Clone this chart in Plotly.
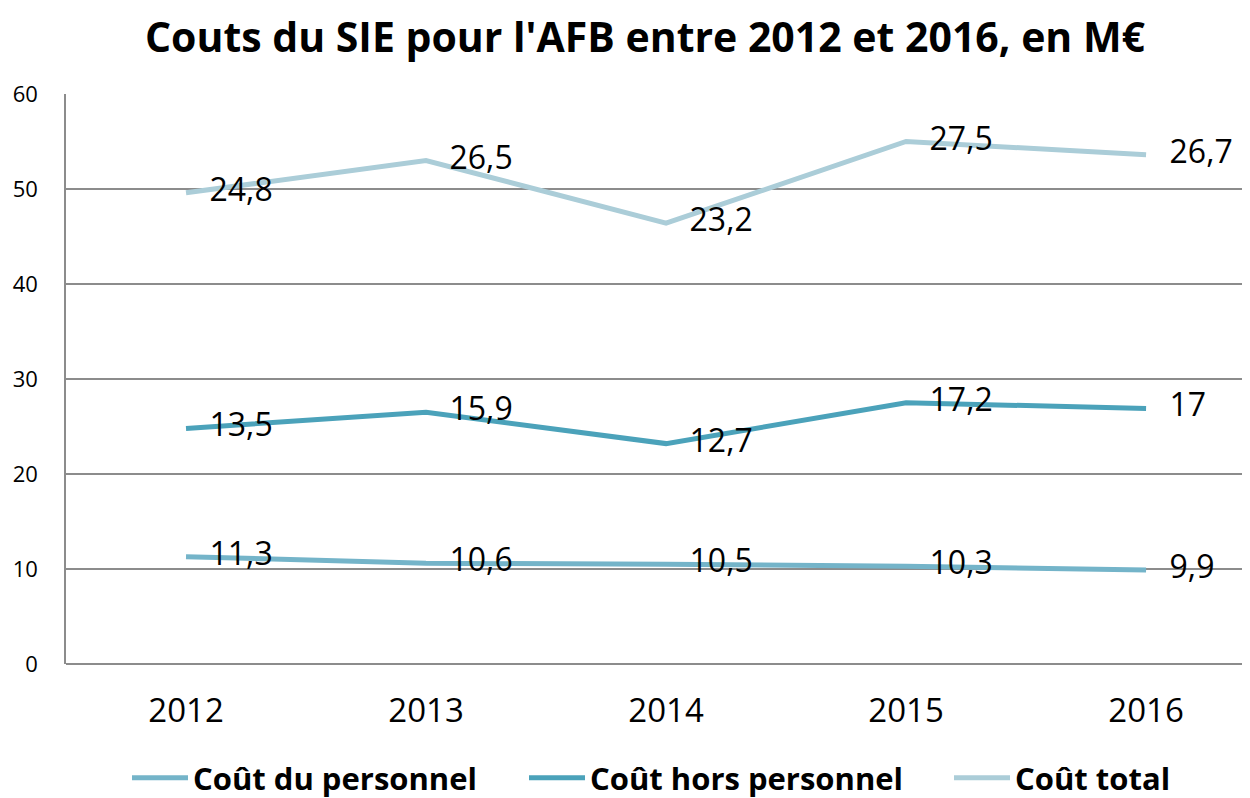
import plotly.graph_objects as go

years = ["2012", "2013", "2014", "2015", "2016"]
cout_personnel = [11.3, 10.6, 10.5, 10.3, 9.9]
cout_hors_personnel = [13.5, 15.9, 12.7, 17.2, 17.0]
cout_total = [24.8, 26.5, 23.2, 27.5, 26.7]

labels_personnel = ["11,3", "10,6", "10,5", "10,3", "9,9"]
labels_hors = ["13,5", "15,9", "12,7", "17,2", "17"]
labels_total = ["24,8", "26,5", "23,2", "27,5", "26,7"]

FONT = "Open Sans"
# page body has an 8px margin: figure is drawn 8px right/down in the window
OFF = 8
W, H = 1250 - OFF, 798 - OFF

series = [
    ("Coût du personnel", cout_personnel, labels_personnel, "#74B4C9", "legend", 133),
    ("Coût hors personnel", cout_hors_personnel, labels_hors, "#4BA2BA", "legend2", 530),
    ("Coût total", cout_total, labels_total, "#ABCDD8", "legend3", 955),
]

fig = go.Figure()
legends = {}
for name, vals, labs, col, leg, lx in series:
    fig.add_trace(go.Scatter(
        x=years, y=vals, name=name, mode="lines+markers+text",
        stackgroup="one", fill="none",
        line=dict(color=col, width=5),
        marker=dict(size=36, color="rgba(0,0,0,0)", line=dict(width=0)),
        text=labs, textposition="middle right",
        textfont=dict(family=FONT, size=32, color="#000000"),
        cliponaxis=False, legend=leg,
    ))
    legends[leg] = dict(
        orientation="h", x=(lx - OFF - 6) / W, xref="container", xanchor="left",
        y=1 - (778 - OFF) / H, yref="container", yanchor="middle",
        font=dict(family=FONT, size=31, color="#000000", weight="bold"),
        itemwidth=56, bgcolor="rgba(0,0,0,0)", borderwidth=0,
    )

fig.update_layout(
    width=W, height=H,
    paper_bgcolor="white", plot_bgcolor="white",
    margin=dict(l=66 - OFF, r=0, t=94 - OFF, b=798 - 664, autoexpand=False),
    title=dict(
        text="<b>Couts du SIE pour l'AFB entre 2012 et 2016, en M€</b>",
        x=(645 - OFF) / W, xanchor="center", y=1 - (38 - OFF) / H, yanchor="middle",
        yref="container",
        font=dict(family=FONT, size=41, color="#000000"),
    ),
    showlegend=True,
    **legends,
)

fig.update_xaxes(
    type="category", range=[-0.5, 4.433], automargin=False,
    showgrid=False, showline=False, zeroline=False,
    ticks="", ticklabelstandoff=24,
    tickfont=dict(family=FONT, size=33, color="#000000"),
)
fig.update_yaxes(
    range=[0, 60], dtick=10, tick0=0, automargin=False,
    showgrid=True, gridcolor="#8C8C8C", gridwidth=1.5,
    showline=True, linecolor="#8C8C8C", linewidth=1.5,
    zeroline=True, zerolinecolor="#8C8C8C", zerolinewidth=1.5,
    ticks="", ticklabelstandoff=22,
    tickfont=dict(family=FONT, size=22, color="#000000"),
)

fig.write_html("out.html")
